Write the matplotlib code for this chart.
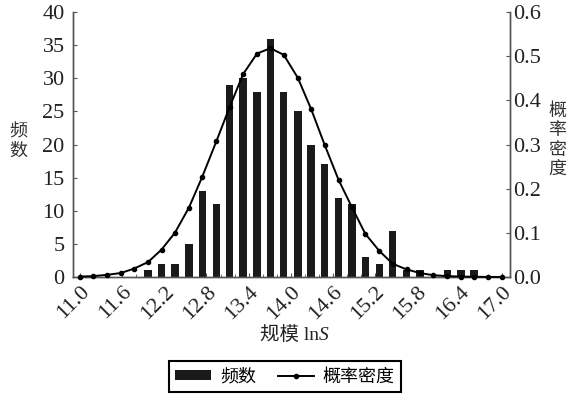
import matplotlib
matplotlib.use("Agg")
import matplotlib.pyplot as plt
from matplotlib.ticker import MultipleLocator

plt.rcParams['font.family'] = ['Liberation Serif', 'Noto Sans CJK SC']

# bin centres of ln S
bin_centres = [11.00, 11.19, 11.39, 11.58, 11.77, 11.97, 12.16, 12.35,
               12.55, 12.74, 12.94, 13.13, 13.32, 13.52, 13.71, 13.90,
               14.10, 14.29, 14.48, 14.68, 14.87, 15.06, 15.26, 15.45,
               15.65, 15.84, 16.03, 16.23, 16.42, 16.61, 16.81, 17.00]
counts = [0, 0, 0, 0, 0, 1, 2, 2, 5, 13, 11, 29, 30, 28, 36, 28,
          25, 20, 17, 12, 11, 3, 2, 7, 1, 1, 0, 1, 1, 1, 0, 0]
density = [0.001, 0.002, 0.005, 0.009, 0.019, 0.034, 0.062, 0.100,
           0.157, 0.227, 0.307, 0.385, 0.459, 0.506, 0.518, 0.503,
           0.451, 0.380, 0.300, 0.220, 0.158, 0.098, 0.059, 0.030,
           0.017, 0.009, 0.004, 0.002, 0.001, 0.0005, 0.0002, 0.0001]

xticks = [11.0, 11.6, 12.2, 12.8, 13.4, 14.0, 14.6, 15.2, 15.8, 16.4, 17.0]
yticks_right = [0.0, 0.1, 0.2, 0.3, 0.4, 0.5, 0.6]
cjk = 'Noto Sans CJK SC'
spine_col = '#555555'
txt_col = '#222222'

fig = plt.figure(figsize=(5.72, 3.98), dpi=100)
ax = fig.add_axes([0.1276, 0.304, 0.7640, 0.6658])
ax2 = ax.twinx()

bars = ax.bar(bin_centres, counts, width=0.105, color='#1a1a1a', zorder=2)
line, = ax2.plot(bin_centres, density, color='black', lw=1.4, marker='o',
                 markersize=3, clip_on=False, zorder=3)

ax.set_xlim(10.90, 17.12)
ax.set_ylim(0, 40)
ax2.set_ylim(0, 0.6)
ax.set_xticks(xticks)
ax.set_xticklabels([f'{v:.1f}' for v in xticks], rotation=45, ha='right',
                   va='top', rotation_mode='anchor')
ax.xaxis.set_minor_locator(MultipleLocator(0.2))
ax.set_yticks(range(0, 41, 5))
ax2.set_yticks(yticks_right)
ax2.set_yticklabels([f'{v:.1f}' for v in yticks_right])

for a in (ax, ax2):
    a.spines['top'].set_visible(False)
    for s in ('left', 'right', 'bottom'):
        a.spines[s].set_color(spine_col)
        a.spines[s].set_linewidth(1.0)
    a.tick_params(axis='both', which='major', direction='in', length=3,
                  color=spine_col, labelsize=16, labelcolor=txt_col)
    a.tick_params(axis='both', which='minor', direction='in', length=2,
                  color=spine_col)
ax.tick_params(axis='y', pad=6)
ax.tick_params(axis='x', pad=4)
ax2.tick_params(axis='y', pad=2)

# x label: CJK + "ln" upright, "S" italic
ylab = 1 - 335 / 398
fig.text(319 / 572, ylab, '规模 ln', ha='right', va='center',
         fontsize=14, color=txt_col, family=['Liberation Serif', cjk])
fig.text(319 / 572, ylab, 'S', ha='left', va='center', fontsize=14,
         color=txt_col, family='Liberation Serif', style='italic')
fig.text(18 / 572, 1 - 141 / 398, '频\n数', ha='center', va='center',
         fontsize=13, color='#333333', family=cjk, linespacing=1.05)
fig.text(557 / 572, 1 - 140 / 398, '概\n率\n密\n度', ha='center', va='center',
         fontsize=13, color='#333333', family=cjk, linespacing=1.1)

leg = fig.legend([bars, line], ['频数', '概率密度'], loc='center',
                 bbox_to_anchor=(0.498, 1 - 376.5 / 398), ncol=2,
                 fancybox=False, edgecolor='black', framealpha=1,
                 prop={'family': cjk, 'size': 13}, handlelength=2.0,
                 handleheight=0.5, handletextpad=0.5, columnspacing=1.2,
                 borderpad=0.35)
leg.get_frame().set_linewidth(1.5)

fig.savefig('out.png', dpi=100)
